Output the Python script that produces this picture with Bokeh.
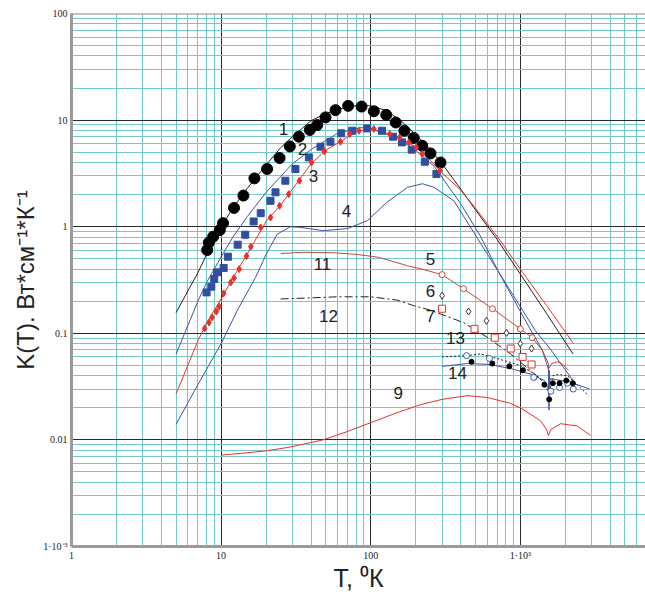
import numpy as np
from bokeh.plotting import figure
from bokeh.models import Range1d, FixedTicker, Span, Title
from bokeh.embed import file_html
from bokeh.resources import INLINE
from bokeh.core.properties import value

# ---- curve 1 (black line + big black dots)
T1 = [5, 6, 7, 8, 10, 12, 15, 20, 25, 30, 40, 50, 63, 75, 90, 110, 130, 160, 200, 250, 300, 400, 500, 700, 1000, 1500, 2250]
K1 = [0.156, 0.25, 0.37, 0.55, 1.0, 1.5, 2.3, 3.8, 5.5, 7.0, 9.9, 11.5, 12.8, 13.5, 13.9, 13.2, 12.0, 9.8, 7.3, 5.3, 3.9, 2.25, 1.45, 0.76, 0.36, 0.153, 0.064]
T1d = [8.07, 8.28, 8.85, 9.8, 10.3, 12.2, 14.1, 16.7, 20.3, 24.6, 28.8, 33.1, 39.2, 43.9, 49.9, 58.2, 70.7, 86.9, 105, 127, 147, 168, 194, 221, 251, 293]
K1d = [0.604, 0.71, 0.806, 0.93, 1.08, 1.5, 1.96, 2.84, 3.48, 4.41, 5.66, 6.99, 8.08, 8.99, 10.6, 12.4, 13.6, 13.4, 12.1, 11.2, 9.5, 7.95, 6.8, 5.75, 4.87, 4.0]

# ---- curve 2 (blue line + blue squares)
T2 = [5, 7, 8, 10, 12, 15, 20, 30, 40, 60, 85, 100, 150, 200, 265, 400, 540, 700, 900, 1180, 1400, 1540, 1555, 1570]
K2 = [0.064, 0.20, 0.30, 0.52, 0.80, 1.25, 2.1, 3.9, 5.3, 7.5, 8.5, 8.3, 6.8, 5.2, 3.7, 1.64, 0.82, 0.40, 0.21, 0.106, 0.07, 0.052, 0.019, 0.045]
T2d = [8.0, 8.6, 9.0, 9.4, 10.4, 11.1, 12.9, 14.5, 16.5, 18.4, 21.4, 23.1, 26.9, 31.4, 38.6, 46.2, 53.8, 63.5, 75.2, 94.8, 119, 141, 162, 188, 230, 275]
K2d = [0.242, 0.274, 0.323, 0.373, 0.41, 0.523, 0.678, 0.841, 1.12, 1.34, 1.75, 2.1, 2.7, 3.48, 4.47, 5.63, 6.27, 7.51, 7.95, 8.36, 7.95, 6.99, 6.18, 5.28, 4.07, 3.12]

# ---- curve 3 (red line + red diamonds)
T3 = [5, 7, 8, 10, 12, 15, 20, 25, 30, 40, 50, 63, 80, 100, 130, 160, 200, 250, 300, 400, 500, 735, 1000, 1500, 2270]
K3 = [0.027, 0.085, 0.125, 0.21, 0.33, 0.56, 1.12, 1.6, 2.25, 3.9, 5.2, 6.3, 7.8, 8.3, 7.5, 6.7, 5.6, 4.2, 3.2, 2.2, 1.5, 0.74, 0.40, 0.182, 0.080]
T3d = [7.76, 8.3, 8.7, 9.3, 9.7, 10.4, 11.6, 12.2, 13.2, 14.8, 15.8, 18.4, 21.4, 24.6, 28.3, 33.4, 40.2, 49, 62.8, 72.5, 83.5, 105, 134, 156, 180, 202, 221, 290]
K3d = [0.111, 0.126, 0.141, 0.160, 0.178, 0.237, 0.30, 0.33, 0.40, 0.53, 0.65, 0.985, 1.22, 1.57, 2.02, 2.7, 4.0, 5.09, 6.27, 7.4, 7.95, 8.26, 7.4, 6.87, 6.18, 5.54, 4.8, 3.35]

# ---- curve 4 (blue line)
T4 = [5, 7, 10, 13, 17, 20, 23.7, 29, 34, 48, 70, 95, 128, 176, 222, 265, 360, 500, 700, 1000, 1260, 1600, 1940, 2260]
K4 = [0.014, 0.033, 0.08, 0.17, 0.335, 0.55, 0.85, 1.0, 0.985, 0.917, 0.96, 1.14, 1.69, 2.34, 2.53, 2.34, 1.75, 0.84, 0.395, 0.178, 0.106, 0.07, 0.048, 0.036]

# ---- curves 11 / 5 (brown-red line + open circles)
T5 = [25, 35, 56, 80, 110, 150, 176, 220, 300, 417, 652, 1000, 1200, 1400, 1540, 1620, 1760, 1900, 2100]
K5 = [0.56, 0.575, 0.57, 0.55, 0.52, 0.46, 0.43, 0.40, 0.355, 0.262, 0.170, 0.110, 0.091, 0.07, 0.046, 0.052, 0.054, 0.052, 0.045]
T5d = [300, 417, 652, 1000, 1200]
K5d = [0.355, 0.262, 0.170, 0.110, 0.091]

# ---- curve 6 (open diamonds)
T6d = [300, 451, 594, 809, 1000, 1190]
K6d = [0.225, 0.16, 0.131, 0.101, 0.080, 0.072]

# ---- curve 7 (red open squares)
T7d = [300, 494, 675, 863, 1035, 1190]
K7d = [0.17, 0.11, 0.091, 0.072, 0.060, 0.051]

# ---- curve 12 (dash-dot)
T12 = [25, 40, 60, 100, 150, 193, 250, 417, 600, 860, 1100, 1400]
K12 = [0.21, 0.215, 0.22, 0.22, 0.205, 0.182, 0.165, 0.126, 0.092, 0.064, 0.048, 0.036]

# ---- curve 13 (dotted + open blue circles)
T13 = [300, 450, 542, 700, 1000, 1300, 1480, 1560, 1650, 1800, 2070, 2400, 2860]
K13 = [0.060, 0.062, 0.064, 0.058, 0.050, 0.040, 0.032, 0.027, 0.040, 0.041, 0.040, 0.033, 0.026]
T13d = [437, 622, 1230, 1600, 1830, 2070, 2260]
K13d = [0.0617, 0.058, 0.0385, 0.0286, 0.031, 0.034, 0.030]

# ---- curve 14 (blue line + black dots)
T14 = [300, 444, 630, 900, 1200, 1450, 1540, 1590, 1900, 2400, 2900]
K14 = [0.049, 0.052, 0.051, 0.046, 0.041, 0.036, 0.030, 0.0375, 0.036, 0.033, 0.030]
T14d = [472, 650, 845, 1040, 1450, 1560, 1650, 1830, 2030, 2245]
K14d = [0.054, 0.052, 0.049, 0.045, 0.033, 0.024, 0.034, 0.034, 0.036, 0.034]

# ---- curve 9 (red line)
T9 = [10, 14, 20, 28, 48, 70, 100, 150, 215, 300, 444, 600, 860, 1000, 1360, 1500, 1540, 1600, 1860, 2400, 2950]
K9 = [0.0072, 0.0075, 0.0079, 0.0085, 0.010, 0.012, 0.0145, 0.018, 0.0214, 0.024, 0.026, 0.025, 0.022, 0.020, 0.0152, 0.0125, 0.011, 0.0125, 0.0142, 0.0135, 0.011]

# ---- curve labels
lab_text = ["1", "2", "3", "4", "5", "6", "7", "9", "11", "12", "13", "14"]
lab_T = [26.1, 35, 41.5, 68.9, 251, 251, 251, 153, 47.6, 52.2, 369, 380]
lab_K = [8.3, 5.4, 3.0, 1.41, 0.5, 0.25, 0.146, 0.0277, 0.45, 0.146, 0.091, 0.042]

# ---- axis ticks and titles
x_ticks = [1, 10, 100, 1000]
x_tick_labels = ["1", "10", "100", "1·10³"]
y_ticks = [0.001, 0.01, 0.1, 1, 10, 100]
y_tick_labels = ["1·10⁻³", "0.01", "0.1", "1", "10", "100"]
x_title = "T, ⁰К"
y_title = "K(T). Вт*см⁻¹*К⁻¹"

BLUE = "#3a56a6"
RED = "#e8322c"
BROWN = "#c8483e"

p = figure(width=645, height=595, x_axis_type="log", y_axis_type="log",
           x_range=Range1d(1, 6870), y_range=Range1d(0.001, 100),
           output_backend="svg", toolbar_location=None,
           min_border_left=71, min_border_right=0, min_border_top=13, min_border_bottom=49)
p.outline_line_color = None
p.background_fill_color = "white"

xt = FixedTicker(ticks=x_ticks, minor_ticks=[m * 10 ** e for e in range(0, 4) for m in range(2, 10)])
yt = FixedTicker(ticks=y_ticks, minor_ticks=[m * 10.0 ** e for e in range(-3, 2) for m in range(2, 10)])
p.xaxis.ticker = xt
p.xgrid.ticker = xt
p.yaxis.ticker = yt
p.ygrid.ticker = yt
p.xaxis.major_label_overrides = dict(zip(x_ticks, x_tick_labels))
p.yaxis.major_label_overrides = dict(zip(y_ticks, y_tick_labels))

for g in (p.xgrid, p.ygrid):
    g.grid_line_color = "#2a2a2a"
    g.grid_line_width = 1
    g.minor_grid_line_color = "#72c9c9"
    g.minor_grid_line_width = 1

for ax in (p.xaxis, p.yaxis):
    ax.axis_line_color = "#9a9a9a"
    ax.axis_line_width = 3
    ax.major_tick_out = 0
    ax.major_tick_in = 0
    ax.minor_tick_out = 0
    ax.minor_tick_in = 0
    ax.major_label_text_font = "Liberation Serif"
    ax.major_label_text_font_size = "10px"
    ax.major_label_text_color = "#222222"
    ax.axis_label_text_font = "Liberation Sans"
    ax.axis_label_text_font_style = "normal"
    ax.axis_label_text_color = "#222222"
p.xaxis.major_label_standoff = 3
p.yaxis.major_label_standoff = 4
p.xaxis.axis_label = x_title
p.xaxis.axis_label_text_font_size = "25px"
p.xaxis.axis_label_standoff = 0

# vertical axis title, shifted down a little as in the reference
p.add_layout(Title(text=y_title, align="center", offset=-21, standoff=4,
                   text_font="Liberation Sans", text_font_size="24px",
                   text_font_style="normal", text_color="#222222"), "left")

p.add_layout(Span(location=100, dimension="width", line_color="#8a8a8a", line_width=2))

# lines
p.line(T1, K1, line_color="#222222", line_width=1)
p.line(T3, K3, line_color=RED, line_width=1)
p.line(T2, K2, line_color=BLUE, line_width=1)
p.line(T4, K4, line_color=BLUE, line_width=1)
p.line(T5, K5, line_color=BROWN, line_width=1)
p.line(T12, K12, line_color="#222222", line_width=1, line_dash="8 3 2 3")
p.line(T13, K13, line_color="#222222", line_width=1, line_dash="2 2")
p.line(T14, K14, line_color=BLUE, line_width=1)
p.line(T9, K9, line_color=RED, line_width=1)

# markers
p.scatter(T1d, K1d, marker="circle", size=11, fill_color="black", line_color="black")
p.scatter(T2d, K2d, marker="square", size=7, fill_color="#2f4f9f", line_color="#2f4f9f")
p.scatter(T3d, K3d, marker="diamond", size=7, fill_color=RED, line_color=RED)
p.scatter(T5d, K5d, marker="circle", size=6, fill_color="white", line_color=BROWN)
p.scatter(T6d, K6d, marker="diamond", size=7, fill_color="white", line_color="#333333")
p.scatter(T7d, K7d, marker="square", size=7, fill_color="white", line_color=RED)
p.scatter(T13d, K13d, marker="circle", size=6, fill_color="white", line_color=BLUE)
p.scatter(T14d, K14d, marker="circle", size=5, fill_color="black", line_color="black")

p.text(x=lab_T, y=lab_K, text=lab_text, text_font=value("Liberation Sans"),
       text_font_size="17px", text_align="center", text_baseline="middle", text_color="#222222")

open("out.html", "w").write(file_html(p, INLINE))
